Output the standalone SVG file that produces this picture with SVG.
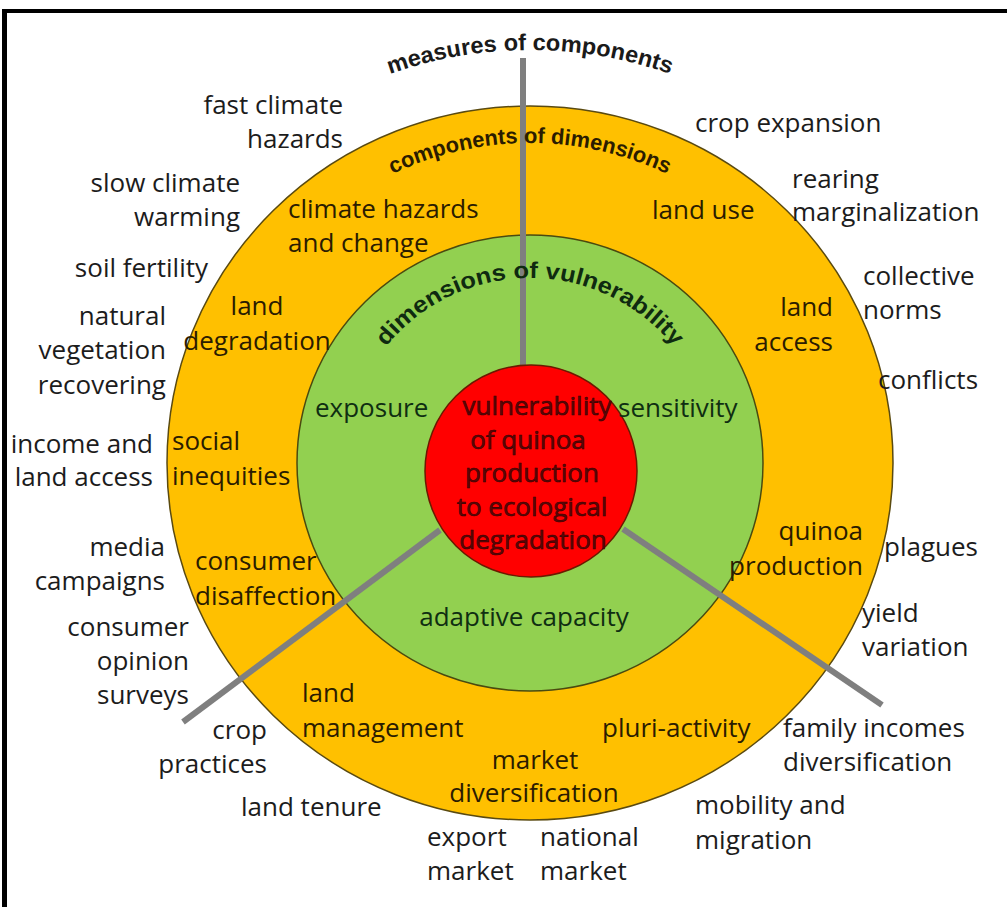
<svg xmlns="http://www.w3.org/2000/svg" width="1007" height="907" viewBox="0 0 1007 907">
<style>
  .o{font-family:"Open Sans","Liberation Sans",sans-serif;font-size:26px;fill:#1c1c1c}
  .ri{font-family:"Open Sans","Liberation Sans",sans-serif;font-size:26px;fill:#2b1c00}
  .gi{font-family:"Open Sans","Liberation Sans",sans-serif;font-size:26px;fill:#0f2e12}
  .rd{font-family:"Open Sans","Liberation Sans",sans-serif;font-size:26px;fill:#5a0808;stroke:#3a0000;stroke-width:0.6}
  .arc{font-family:"Liberation Sans",Arial,sans-serif;font-weight:bold}
  .e{text-anchor:end}
  .m{text-anchor:middle}
  .conn line{stroke:#7f7f7f;stroke-width:6;stroke-linecap:butt}
</style>
<defs>
  <path id="pMeas" d="M 110,470 A 420 420 0 0 1 950,470"/>
  <path id="pComp" d="M 210,463 A 320 320 0 0 1 850,463"/>
  <path id="pDim" d="M 345,463 A 185 185 0 0 1 715,463"/>
</defs>
<rect x="0" y="0" width="1007" height="907" fill="#ffffff"/>
<rect x="2" y="9" width="1005" height="4" fill="#000"/>
<rect x="2" y="9" width="5" height="898" fill="#000"/>

<g id="components-ring">
  <ellipse cx="530" cy="463" rx="363" ry="357" fill="#ffc000" stroke="#5a4a10" stroke-width="1.5"/>
</g>
<g id="dimensions-ring">
  <ellipse cx="530" cy="463" rx="233" ry="228" fill="#92d050" stroke="#4a4a10" stroke-width="1.5"/>
</g>

<g id="connectors" class="conn">
  <line x1="523" y1="58" x2="523" y2="368"/>
  <line x1="440" y1="530" x2="183" y2="722"/>
  <line x1="623" y1="529" x2="882" y2="705"/>
</g>

<g id="core">
  <ellipse cx="531" cy="471" rx="106" ry="106" fill="#ff0000" stroke="#6b1a00" stroke-width="1.5"/>
  <text class="rd m" x="537" y="415">vulnerability</text>
  <text class="rd m" x="528" y="449">of quinoa</text>
  <text class="rd m" x="532" y="482">production</text>
  <text class="rd m" x="532" y="516">to ecological</text>
  <text class="rd m" x="533" y="549">degradation</text>
</g>

<g id="arc-labels">
  <text class="arc" font-size="23" fill="#1a1a1a"><textPath href="#pMeas" startOffset="50%" text-anchor="middle" textLength="286" lengthAdjust="spacingAndGlyphs">measures of components</textPath></text>
  <text class="arc" font-size="22" fill="#2b1c00"><textPath href="#pComp" startOffset="50%" text-anchor="middle" textLength="284" lengthAdjust="spacingAndGlyphs">components of dimensions</textPath></text>
  <text class="arc" font-size="23" fill="#0f2a10"><textPath href="#pDim" startOffset="50%" text-anchor="middle" textLength="330" lengthAdjust="spacingAndGlyphs">dimensions of vulnerability</textPath></text>
</g>

<g id="exposure">
  <text class="gi" x="315" y="417">exposure</text>
  <g id="climate-hazards-and-change">
    <text class="ri" x="288" y="218">climate hazards</text>
    <text class="ri" x="288" y="252">and change</text>
    <text class="o e" x="343" y="114">fast climate</text>
    <text class="o e" x="343" y="148">hazards</text>
    <text class="o e" x="240" y="192">slow climate</text>
    <text class="o e" x="240" y="226">warming</text>
  </g>
  <g id="land-degradation">
    <text class="ri m" x="257" y="315">land</text>
    <text class="ri m" x="257" y="350">degradation</text>
    <text class="o e" x="208" y="277">soil fertility</text>
    <text class="o e" x="166" y="325">natural</text>
    <text class="o e" x="166" y="359">vegetation</text>
    <text class="o e" x="166" y="394">recovering</text>
  </g>
  <g id="social-inequities">
    <text class="ri" x="172" y="450">social</text>
    <text class="ri" x="172" y="485">inequities</text>
    <text class="o e" x="153" y="453">income and</text>
    <text class="o e" x="153" y="486">land access</text>
  </g>
  <g id="consumer-disaffection">
    <text class="ri" x="195" y="570">consumer</text>
    <text class="ri" x="195" y="605">disaffection</text>
    <text class="o e" x="165" y="556">media</text>
    <text class="o e" x="165" y="590">campaigns</text>
    <text class="o e" x="189" y="636">consumer</text>
    <text class="o e" x="189" y="670">opinion</text>
    <text class="o e" x="189" y="704">surveys</text>
  </g>
</g>

<g id="sensitivity">
  <text class="gi" x="618" y="417">sensitivity</text>
  <g id="land-use">
    <text class="ri" x="652" y="219">land use</text>
    <text class="o" x="695" y="132">crop expansion</text>
    <text class="o" x="792" y="188">rearing</text>
    <text class="o" x="792" y="221">marginalization</text>
  </g>
  <g id="land-access">
    <text class="ri e" x="833" y="316">land</text>
    <text class="ri e" x="833" y="351">access</text>
    <text class="o" x="863" y="285">collective</text>
    <text class="o" x="863" y="319">norms</text>
    <text class="o" x="878" y="389">conflicts</text>
  </g>
  <g id="quinoa-production">
    <text class="ri e" x="863" y="540">quinoa</text>
    <text class="ri e" x="863" y="575">production</text>
    <text class="o" x="884" y="556">plagues</text>
    <text class="o" x="862" y="622">yield</text>
    <text class="o" x="862" y="656">variation</text>
  </g>
</g>

<g id="adaptive-capacity">
  <text class="gi m" x="524" y="626">adaptive capacity</text>
  <g id="land-management">
    <text class="ri" x="302" y="702">land</text>
    <text class="ri" x="302" y="737">management</text>
    <text class="o e" x="267" y="739">crop</text>
    <text class="o e" x="267" y="773">practices</text>
    <text class="o" x="241" y="816">land tenure</text>
  </g>
  <g id="market-diversification">
    <text class="ri m" x="535" y="769">market</text>
    <text class="ri m" x="534" y="802">diversification</text>
    <text class="o" x="427" y="846">export</text>
    <text class="o" x="427" y="880">market</text>
    <text class="o" x="540" y="846">national</text>
    <text class="o" x="540" y="880">market</text>
  </g>
  <g id="pluri-activity">
    <text class="ri" x="602" y="737">pluri-activity</text>
    <text class="o" x="783" y="737">family incomes</text>
    <text class="o" x="783" y="771">diversification</text>
    <text class="o" x="695" y="814">mobility and</text>
    <text class="o" x="695" y="849">migration</text>
  </g>
</g>
</svg>
